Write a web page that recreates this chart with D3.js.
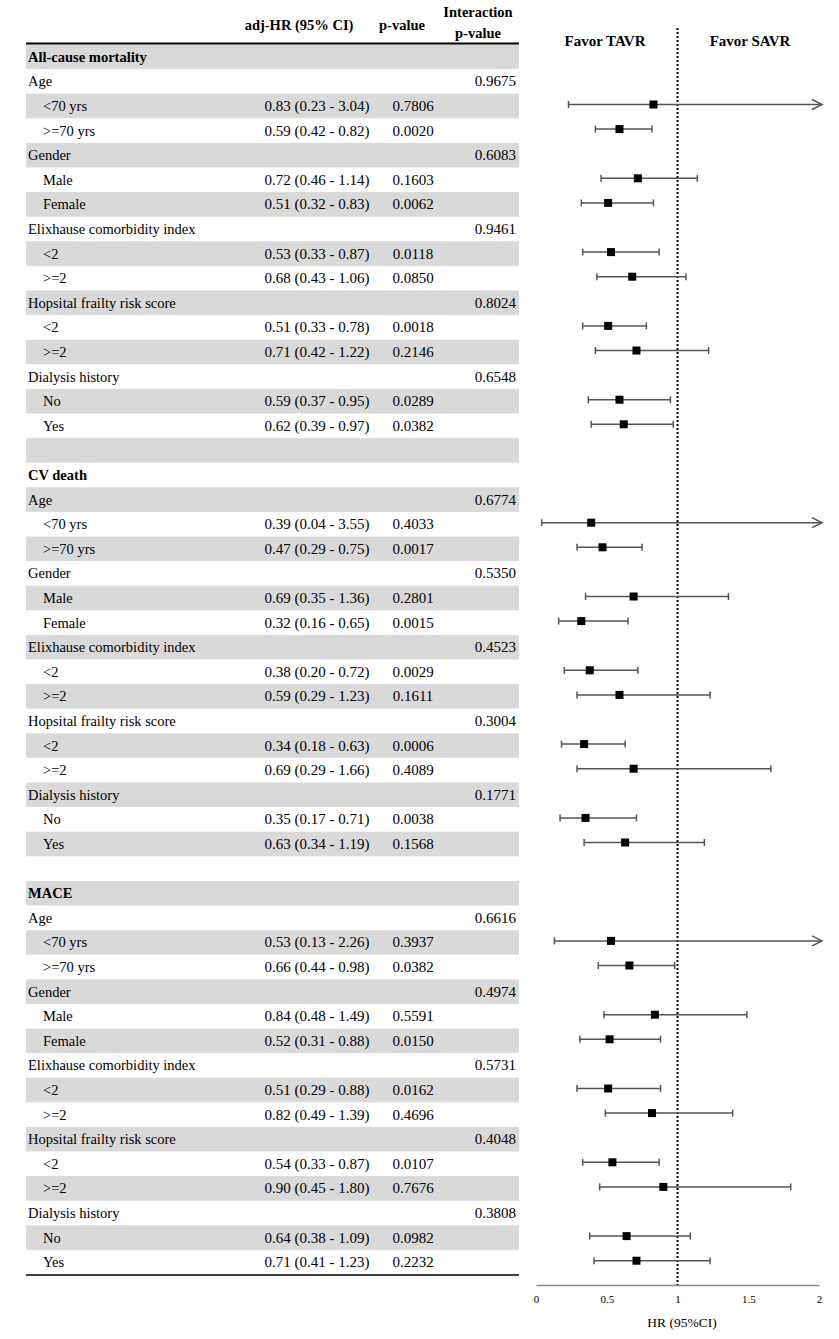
<!DOCTYPE html>
<html>
<head>
<meta charset="utf-8">
<script src="https://cdn.jsdelivr.net/npm/d3@7"></script>
<style>
  html, body { margin: 0; padding: 0; background: #fff; }
  svg { display: block; }
  text { font-family: "Liberation Serif", "Times New Roman", serif; fill: #000; }
</style>
</head>
<body>
<svg id="chart" width="839" height="1339"></svg>
<script>
// ---------- DATA ----------
const outcomes = ["All-cause mortality", "CV death", "MACE"];
const variables = ["Age", "Gender", "Elixhause comorbidity index", "Hopsital frailty risk score", "Dialysis history"];
const levels = [["<70 yrs", ">=70 yrs"], ["Male", "Female"], ["<2", ">=2"], ["<2", ">=2"], ["No", "Yes"]];
const interactionP = [
  ["0.9675", "0.6083", "0.9461", "0.8024", "0.6548"],
  ["0.6774", "0.5350", "0.4523", "0.3004", "0.1771"],
  ["0.6616", "0.4974", "0.5731", "0.4048", "0.3808"]
];
const hr = [
  [0.83, 0.59, 0.72, 0.51, 0.53, 0.68, 0.51, 0.71, 0.59, 0.62],
  [0.39, 0.47, 0.69, 0.32, 0.38, 0.59, 0.34, 0.69, 0.35, 0.63],
  [0.53, 0.66, 0.84, 0.52, 0.51, 0.82, 0.54, 0.90, 0.64, 0.71]
];
const lower = [
  [0.23, 0.42, 0.46, 0.32, 0.33, 0.43, 0.33, 0.42, 0.37, 0.39],
  [0.04, 0.29, 0.35, 0.16, 0.20, 0.29, 0.18, 0.29, 0.17, 0.34],
  [0.13, 0.44, 0.48, 0.31, 0.29, 0.49, 0.33, 0.45, 0.38, 0.41]
];
const upper = [
  [3.04, 0.82, 1.14, 0.83, 0.87, 1.06, 0.78, 1.22, 0.95, 0.97],
  [3.55, 0.75, 1.36, 0.65, 0.72, 1.23, 0.63, 1.66, 0.71, 1.19],
  [2.26, 0.98, 1.49, 0.88, 0.88, 1.39, 0.87, 1.80, 1.09, 1.23]
];
const pValues = [
  ["0.7806", "0.0020", "0.1603", "0.0062", "0.0118", "0.0850", "0.0018", "0.2146", "0.0289", "0.0382"],
  ["0.4033", "0.0017", "0.2801", "0.0015", "0.0029", "0.1611", "0.0006", "0.4089", "0.0038", "0.1568"],
  ["0.3937", "0.0382", "0.5591", "0.0150", "0.0162", "0.4696", "0.0107", "0.7676", "0.0982", "0.2232"]
];
const headers = ["adj-HR (95% CI)", "p-value", "Interaction", "p-value"];
const axisTicks = [0, 0.5, 1, 1.5, 2];
const axisLabel = "HR (95%CI)";
const favorLabels = ["Favor TAVR", "Favor SAVR"];

// ---------- BUILD ROWS ----------
const rows = [];
outcomes.forEach((o, oi) => {
  rows.push({ type: "outcome", label: o });
  variables.forEach((v, vi) => {
    rows.push({ type: "variable", label: v, inter: interactionP[oi][vi] });
    levels[vi].forEach((lv, li) => {
      const k = vi * 2 + li;
      rows.push({
        type: "level", label: lv,
        hr: hr[oi][k], lo: lower[oi][k], hi: upper[oi][k], p: pValues[oi][k]
      });
    });
  });
  if (oi < outcomes.length - 1) rows.push({ type: "blank" });
});

const fmt = d3.format(".2f");

// ---------- LAYOUT ----------
const svg = d3.select("#chart");
const tableLeft = 26, tableRight = 519;
const tableTop = 44.5;
const rowH = 24.6;
const y = d3.scaleBand().domain(d3.range(rows.length)).range([tableTop, tableTop + rowH * rows.length]).padding(0);
const x = d3.scaleLinear().domain([0, 2]).range([536, 819]);
const axisY = 1285;

// row backgrounds
svg.append("g").selectAll("rect")
  .data(rows.map((r, i) => i).filter(i => i % 2 === 0))
  .join("rect")
  .attr("x", tableLeft).attr("width", tableRight - tableLeft)
  .attr("y", i => y(i)).attr("height", y.bandwidth())
  .attr("fill", "#d9d9d9");

// header
const hdr = svg.append("g").attr("font-weight", "bold").attr("font-size", 14.5).attr("text-anchor", "middle");
hdr.append("text").attr("x", 299).attr("y", 30).text(headers[0]);
hdr.append("text").attr("x", 402).attr("y", 30).text(headers[1]);
hdr.append("text").attr("x", 478).attr("y", 17).text(headers[2]);
hdr.append("text").attr("x", 478).attr("y", 38).text(headers[3]);

svg.append("line").attr("x1", tableLeft).attr("x2", tableRight)
  .attr("y1", 43.5).attr("y2", 43.5).attr("stroke", "#000").attr("stroke-width", 2);
svg.append("line").attr("x1", tableLeft).attr("x2", tableRight)
  .attr("y1", y(rows.length - 1) + y.bandwidth() + 0.5).attr("y2", y(rows.length - 1) + y.bandwidth() + 0.5)
  .attr("stroke", "#000").attr("stroke-width", 1.6);

// table text
const tg = svg.append("g").attr("font-size", 14.5);
rows.forEach((r, i) => {
  const cy = y(i) + y.bandwidth() / 2 + 5;
  if (r.type === "outcome") {
    tg.append("text").attr("x", 28).attr("y", cy).attr("font-weight", "bold").text(r.label);
  } else if (r.type === "variable") {
    tg.append("text").attr("x", 28).attr("y", cy).text(r.label);
    tg.append("text").attr("x", 516).attr("y", cy).attr("text-anchor", "end").attr("font-size", 15).text(r.inter);
  } else if (r.type === "level") {
    tg.append("text").attr("x", 43).attr("y", cy).text(r.label);
    tg.append("text").attr("x", 317).attr("y", cy).attr("text-anchor", "middle").attr("font-size", 15)
      .text(`${fmt(r.hr)} (${fmt(r.lo)} - ${fmt(r.hi)})`);
    tg.append("text").attr("x", 413).attr("y", cy).attr("text-anchor", "middle").attr("font-size", 15).text(r.p);
  }
});

// ---------- FOREST PLOT ----------
const fg = svg.append("g");
fg.append("text").attr("x", 605).attr("y", 46).attr("text-anchor", "middle")
  .attr("font-weight", "bold").attr("font-size", 15).text(favorLabels[0]);
fg.append("text").attr("x", 750).attr("y", 46).attr("text-anchor", "middle")
  .attr("font-weight", "bold").attr("font-size", 15).text(favorLabels[1]);

// axis
const axis = d3.axisBottom(x).tickValues(axisTicks).tickSize(0).tickPadding(10)
  .tickFormat(d => d3.format("")(d));
const ax = fg.append("g").attr("transform", `translate(0,${axisY})`).call(axis);
ax.select(".domain").attr("stroke", "#8c8c8c").attr("stroke-width", 1.6);
ax.selectAll("text").attr("font-family", "Liberation Serif, serif").attr("font-size", 11).attr("fill", "#000");
fg.append("text").attr("x", 682).attr("y", 1327).attr("text-anchor", "middle")
  .attr("font-size", 13.5).text(axisLabel);

// reference line
fg.append("line").attr("x1", x(1)).attr("x2", x(1)).attr("y1", 28).attr("y2", axisY)
  .attr("stroke", "#000").attr("stroke-width", 2).attr("stroke-dasharray", "2,2");

const levelRows = rows.map((r, i) => ({ ...r, i })).filter(r => r.type === "level");
const xmax = x.domain()[1];
const ci = fg.append("g").attr("stroke", "#555").attr("stroke-width", 1.5).attr("fill", "none");
levelRows.forEach(r => {
  const cy = y(r.i) + y.bandwidth() / 2 - 1.5;
  const clipped = r.hi > xmax;
  const xEnd = clipped ? x(xmax) + 3 : x(r.hi);
  ci.append("line").attr("x1", x(r.lo)).attr("x2", xEnd).attr("y1", cy).attr("y2", cy);
  ci.append("line").attr("x1", x(r.lo)).attr("x2", x(r.lo)).attr("y1", cy - 3.5).attr("y2", cy + 3.5);
  if (clipped) {
    ci.append("path").attr("d", `M${xEnd - 10},${cy - 5} L${xEnd},${cy} L${xEnd - 10},${cy + 5}`);
  } else {
    ci.append("line").attr("x1", x(r.hi)).attr("x2", x(r.hi)).attr("y1", cy - 3.5).attr("y2", cy + 3.5);
  }
  fg.append("rect").attr("x", x(r.hr) - 4).attr("y", cy - 4).attr("width", 8).attr("height", 8).attr("fill", "#000");
});
</script>
</body>
</html>
